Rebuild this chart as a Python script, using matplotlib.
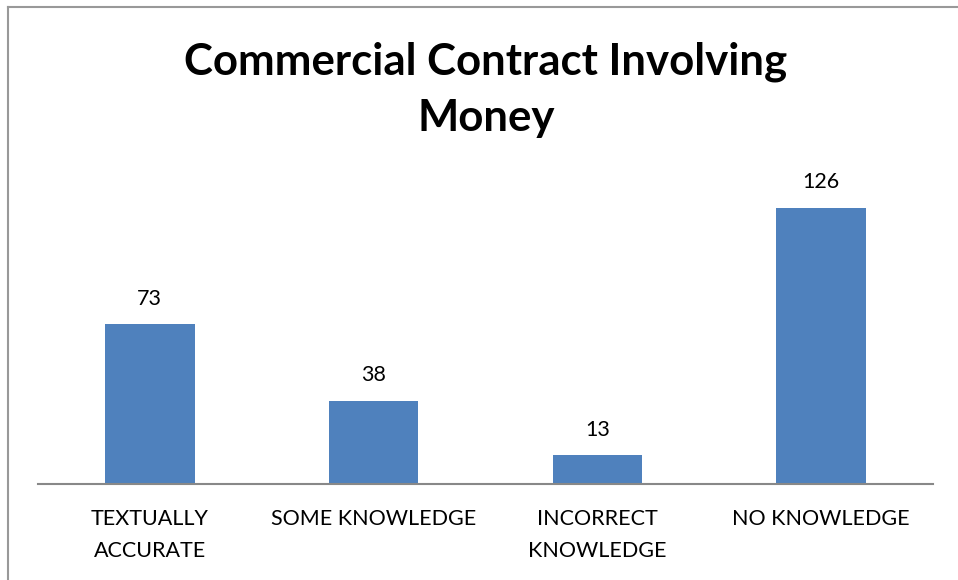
import matplotlib.pyplot as plt
from matplotlib.lines import Line2D

CATEGORIES = ["TEXTUALLY\nACCURATE", "SOME KNOWLEDGE", "INCORRECT\nKNOWLEDGE", "NO KNOWLEDGE"]
VALUES = [73, 38, 13, 126]
TITLE = "Commercial Contract Involving\nMoney"

BAR_COLOR = "#4F81BD"
FONT = ["Lato", "DejaVu Sans"]

W, H = 958, 580
fig = plt.figure(figsize=(W / 100, H / 100), dpi=100)

# plot area in pixel terms
left, right, top, base = 38, 933, 177, 484
ax = fig.add_axes([left / W, (H - base) / H, (right - left) / W, (base - top) / H])

x = range(len(CATEGORIES))
bars = ax.bar(x, VALUES, width=0.4, color=BAR_COLOR)
for b, v in zip(bars, VALUES):
    ax.annotate(str(v), (b.get_x() + b.get_width() / 2, v), xytext=(0, 11),
                textcoords="offset points", ha="center", va="bottom",
                fontsize=15.5, family=FONT)

ax.set_xlim(-0.5, len(CATEGORIES) - 0.5)
ax.set_ylim(0, 140)
ax.set_xticks(list(x))
ax.set_xticklabels(CATEGORIES, fontsize=15.5, family=FONT, linespacing=1.75)
ax.tick_params(axis="x", length=0, pad=18)
ax.set_yticks([])
for s in ("left", "right", "top"):
    ax.spines[s].set_visible(False)
ax.spines["bottom"].set_color("#888888")
ax.spines["bottom"].set_linewidth(1.5)

fig.text(486 / W, 1 - 90 / H, TITLE, ha="center", va="center", fontsize=31.5,
         fontweight="bold", family=FONT, linespacing=1.5)

# outer frame
fig.add_artist(Line2D([8 / W, 8 / W], [0, 1 - 7 / H], transform=fig.transFigure,
                      color="#999999", lw=1.5))
fig.add_artist(Line2D([8 / W, 1], [1 - 7 / H, 1 - 7 / H], transform=fig.transFigure,
                      color="#999999", lw=1.5))

fig.savefig("out.png", dpi=100)
